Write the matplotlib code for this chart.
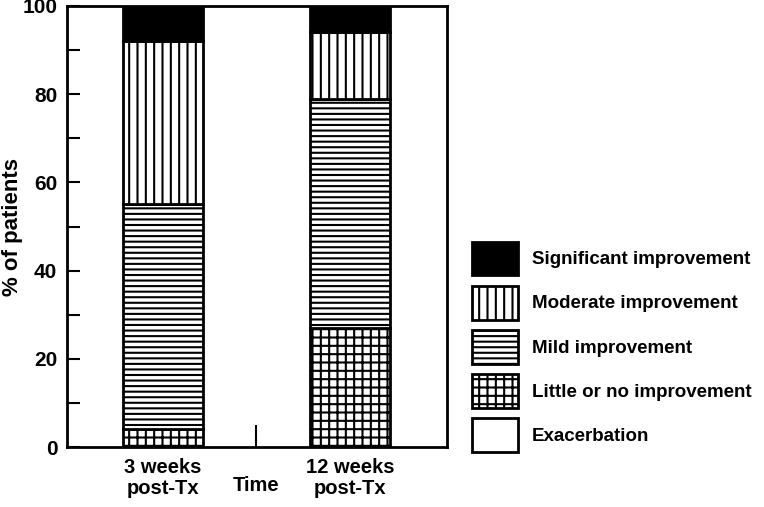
import matplotlib.pyplot as plt
import numpy as np

plt.rcParams['font.family'] = ['Liberation Sans Narrow', 'Liberation Sans', 'DejaVu Sans']
plt.rcParams['font.weight'] = 'bold'
plt.rcParams['hatch.linewidth'] = 1.5
plt.rcParams['hatch.color'] = 'black'

times = ['3 weeks\npost-Tx', '12 weeks\npost-Tx']
categories = ['Exacerbation', 'Little or no improvement', 'Mild improvement',
              'Moderate improvement', 'Significant improvement']
exacerbation = [0, 0]
little = [4, 27]
mild = [51, 52]
moderate = [37, 15]
significant = [8, 6]

series = [exacerbation, little, mild, moderate, significant]
hatches = ['', '++', '---', '||', '']
faces = ['white', 'white', 'white', 'white', 'black']

fig = plt.figure(figsize=(7.64, 5.07), dpi=100)
ax = fig.add_axes([0.0877, 0.1183, 0.4974, 0.8699])

ind = np.arange(len(times))
width = 0.43
bottom = np.zeros(len(times))
handles = []
for vals, h, fc, lab in zip(series, hatches, faces, categories):
    b = ax.bar(ind, vals, width, bottom=bottom, facecolor=fc, edgecolor='black',
               hatch=h, linewidth=2, label=lab)
    handles.append(b)
    bottom = bottom + np.array(vals)

ax.set_xlim(-0.513, 1.519)
ax.set_ylim(0, 100)
ax.set_yticks([0, 20, 40, 60, 80, 100])
ax.set_yticks([10, 30, 50, 70, 90], minor=True)
ax.tick_params(axis='y', which='both', direction='in', length=9, width=1.5,
               labelsize=15, pad=7)
ax.set_xticks(ind)
ax.set_xticklabels(times, linespacing=1.1)
ax.set_xticks([0.5], minor=True)
ax.set_xticklabels(['Time'], minor=True)
ax.tick_params(axis='x', which='major', length=0, labelsize=14.5, pad=8)
ax.tick_params(axis='x', which='minor', direction='in', length=16, width=1.5,
               labelsize=14.5, pad=21)
for s in ax.spines.values():
    s.set_linewidth(2)

ax.set_ylabel('% of patients', fontsize=16, fontweight='bold')
ax.yaxis.set_label_coords(-0.115, 0.5)

fig.legend(handles[::-1], categories[::-1], loc='center left',
           bbox_to_anchor=(0.618, 0.316), frameon=False, fontsize=13.5,
           handlelength=2.45, handleheight=2.4, labelspacing=0.55,
           handletextpad=0.75, borderpad=0, borderaxespad=0)

fig.savefig('out.png', dpi=100)
